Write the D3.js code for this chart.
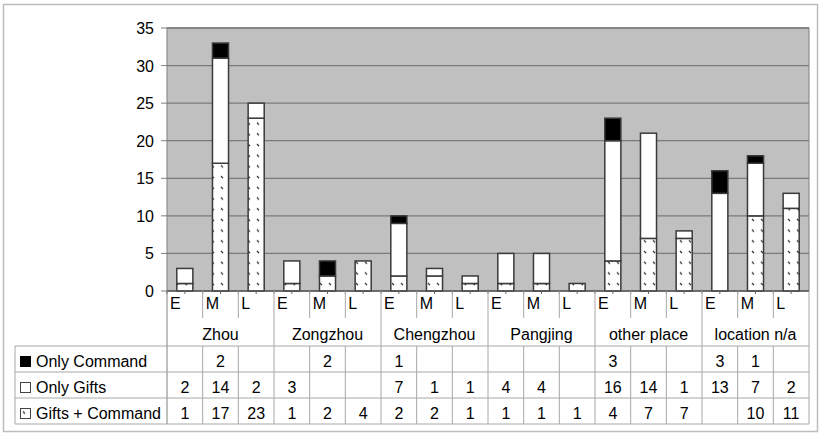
<!DOCTYPE html>
<html><head><meta charset="utf-8">
<script src="https://cdn.jsdelivr.net/npm/d3@7"></script>
<style>body{margin:0;background:#fff}svg{display:block;font-family:"Liberation Sans",Arial,sans-serif}</style>
</head><body><svg id="c" width="820" height="434"></svg>
<script>
const groups = ["Zhou","Zongzhou","Chengzhou","Pangjing","other place","location n/a"];
const periods = ["E","M","L"];
const seriesNames = ["Only Command","Only Gifts","Gifts + Command"];
const onlyCommand   = [null,2,null, null,2,null, 1,null,null, null,null,null, 3,null,null, 3,1,null];
const onlyGifts     = [2,14,2, 3,null,null, 7,1,1, 4,4,null, 16,14,1, 13,7,2];
const giftsCommand  = [1,17,23, 1,2,4, 2,2,1, 1,1,1, 4,7,7, null,10,11];
const yTicks = [0,5,10,15,20,25,30,35];

const svg = d3.select("#c");
const L = 167, R = 809, T = 28, B = 291;
const keys = [];
groups.forEach((g,gi)=>periods.forEach((p,pi)=>keys.push(gi*3+pi)));
const x = d3.scaleBand().domain(keys).range([L,R]).padding(0);
const y = d3.scaleLinear().domain([0,35]).range([B,T]);

const defs = svg.append("defs");
const pat = defs.append("pattern").attr("id","dots").attr("patternUnits","userSpaceOnUse")
  .attr("width",9).attr("height",10.7).attr("x",2).attr("y",3);
pat.append("rect").attr("width",9).attr("height",10.7).attr("fill","#fff");
pat.append("line").attr("x1",3).attr("y1",2).attr("x2",5).attr("y2",4).attr("stroke","#222").attr("stroke-width",1.2);

svg.append("rect").attr("x",3.5).attr("y",4.5).attr("width",814).attr("height",427)
  .attr("fill","none").attr("stroke","#bdbdbd").attr("stroke-width",1.5);

svg.append("rect").attr("x",L).attr("y",T).attr("width",R-L).attr("height",B-T)
  .attr("fill","#c0c0c0").attr("stroke","#808080").attr("stroke-width",1);

svg.append("g").selectAll("line").data(yTicks.filter(d=>d>0)).join("line")
  .attr("x1",L).attr("x2",R).attr("y1",d=>y(d)).attr("y2",d=>y(d))
  .attr("stroke","#7a7a7a").attr("stroke-width",1.3);

const ya = svg.append("g");
ya.selectAll("line").data(yTicks).join("line")
  .attr("x1",161).attr("x2",L).attr("y1",d=>y(d)).attr("y2",d=>y(d)).attr("stroke","#808080");
ya.selectAll("text").data(yTicks).join("text")
  .attr("x",154).attr("y",d=>y(d)+6).attr("text-anchor","end").attr("font-size",16).attr("fill","#000").text(d=>d);

const stackData = keys.map(k=>({k, gc:giftsCommand[k]||0, og:onlyGifts[k]||0, oc:onlyCommand[k]||0}));
const bw = x.bandwidth()*0.45;
const bars = svg.append("g");
stackData.forEach(d=>{
  const cx = x(d.k)+x.bandwidth()/2;
  const segs = [["gc","url(#dots)"],["og","#fff"],["oc","#000"]];
  let base = 0;
  segs.forEach(([key,fill])=>{
    const v = d[key];
    if(v>0){
      bars.append("rect").attr("x",cx-bw/2).attr("width",bw)
        .attr("y",y(base+v)).attr("height",y(base)-y(base+v))
        .attr("fill",fill).attr("stroke","#3a3a3a").attr("stroke-width",1.5);
    }
    base += v;
  });
});

svg.append("line").attr("x1",L).attr("x2",R).attr("y1",B).attr("y2",B).attr("stroke","#555").attr("stroke-width",1.5);

const lineCol = "#a8a8a8";
const tbTop = 346, rowH = 26, tbBot = tbTop + rowH*3;
const g = svg.append("g");
const tickPos = [];
keys.forEach(k=>{tickPos.push(x(k)); tickPos.push(x(k)+x.bandwidth()/2);});
g.selectAll("line.tk").data(tickPos).join("line").attr("class","tk")
  .attr("x1",d=>d).attr("x2",d=>d).attr("y1",B).attr("y2",B+3).attr("stroke","#666");
g.selectAll("line.ps").data(keys.filter(k=>k%3!==0)).join("line").attr("class","ps")
  .attr("x1",d=>x(d)).attr("x2",d=>x(d)).attr("y1",B).attr("y2",318).attr("stroke",lineCol);
g.selectAll("line.gs").data(keys.filter(k=>k%3===0).concat([18])).join("line").attr("class","gs")
  .attr("x1",d=>d===18?R:x(d)).attr("x2",d=>d===18?R:x(d)).attr("y1",B).attr("y2",tbBot).attr("stroke",d=>d===0?"#808080":lineCol);
g.selectAll("line.tv").data(keys.filter(k=>k%3!==0)).join("line").attr("class","tv")
  .attr("x1",d=>x(d)).attr("x2",d=>x(d)).attr("y1",tbTop).attr("y2",tbBot).attr("stroke",lineCol);
g.selectAll("text.pl").data(keys).join("text").attr("class","pl")
  .attr("x",d=>x(d)+3).attr("y",309).attr("font-size",16).attr("fill","#000").text(d=>periods[d%3]);
g.selectAll("text.gl").data(groups).join("text").attr("class","gl")
  .attr("x",(d,i)=>x(i*3)+x.bandwidth()*1.5).attr("y",340).attr("text-anchor","middle")
  .attr("font-size",16).attr("fill","#000").text(d=>d);
[0,1,2,3].forEach(i=>{
  g.append("line").attr("x1",15).attr("x2",R).attr("y1",tbTop+i*rowH).attr("y2",tbTop+i*rowH).attr("stroke",lineCol);
});
g.append("line").attr("x1",15).attr("x2",15).attr("y1",tbTop).attr("y2",tbBot).attr("stroke",lineCol);

const seriesVals = [onlyCommand, onlyGifts, giftsCommand];
const keyFill = ["#000","#fff","url(#dots)"];
seriesNames.forEach((name,i)=>{
  const cy = tbTop + rowH*i + rowH/2;
  g.append("rect").attr("x",20.5).attr("y",cy-2.5).attr("width",10).attr("height",10)
    .attr("fill",keyFill[i]).attr("stroke",i===0?"#000":"#444").attr("stroke-width",1);
  g.append("text").attr("x",36).attr("y",cy+8).attr("font-size",16).attr("fill","#000").text(name);
  g.selectAll("text.v"+i).data(keys).join("text").attr("class","v"+i)
    .attr("x",k=>x(k)+x.bandwidth()/2).attr("y",cy+8).attr("text-anchor","middle")
    .attr("font-size",16).attr("fill","#000").text(k=>seriesVals[i][k]==null?"":seriesVals[i][k]);
});
</script></body></html>
